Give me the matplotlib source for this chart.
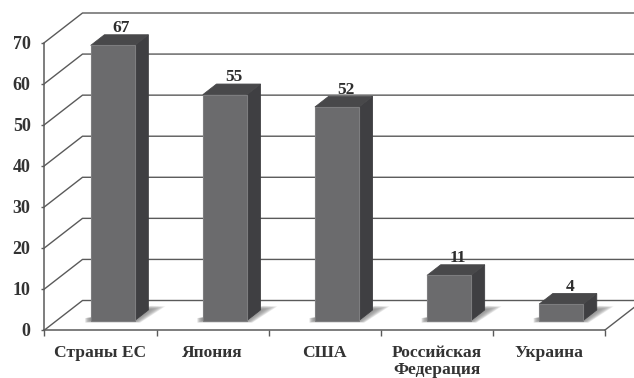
import numpy as np
import matplotlib
matplotlib.use("Agg")
import matplotlib.pyplot as plt
from matplotlib.patches import Polygon

categories = ["Страны ЕС", "Япония", "США", "Российская\nФедерация", "Украина"]
values = [67, 55, 52, 11, 4]
y_ticks = [0, 10, 20, 30, 40, 50, 60, 70]

W, H = 634, 378
# plot box in pixels, depth offset of the back wall
X0, X1, Y0, Y70 = 44.5, 605.0, 330.0, 42.5
DEPTH_X, DEPTH_Y = 38.0, 29.5

plt.rcParams["font.family"] = ["Liberation Serif", "DejaVu Serif"]
plt.rcParams["font.weight"] = "bold"

fig = plt.figure(figsize=(W / 100, H / 100), dpi=100)
ax = fig.add_axes([X0 / W, 1 - Y0 / H, (X1 - X0) / W, (Y0 - Y70) / H])
ax.set_xlim(0, 5)
ax.set_ylim(0, 70)

dx = DEPTH_X / ((X1 - X0) / 5)
dy = DEPTH_Y / ((Y0 - Y70) / 70)


def project(x, v, d):
    # oblique projection: d=0 is the front plane, d=1 the back wall
    return x + d * dx, v + d * dy


# walls and floor lines
for t in y_ticks:
    xa, ya = project(0, t, 0)
    xb, yb = project(0, t, 1)
    xc, yc = project(5, t, 1)
    ax.plot([xa, xb, xc], [ya, yb, yc], color="#5a5a5a", lw=1.0, clip_on=False, zorder=1)
xa, ya = project(5, 0, 0)
xb, yb = project(5, 0, 1)
ax.plot([xa, xb], [ya, yb], color="#5a5a5a", lw=1.0, clip_on=False, zorder=1)

# bars sit a little behind the front plane
bar_half = 0.196
d_front, d_back = 0.32, 0.68
for i, v in enumerate(values):
    xc = i + 0.5
    xl, xr = xc - bar_half, xc + bar_half

    # soft floor shadow, stacked translucent polygons
    for grow in np.linspace(1.0, 0.1, 10):
        pts = [project(xl - 0.05 * grow, -0.5 * grow, d_front),
               project(xr + 0.05 * grow, -0.5 * grow, d_front),
               project(xr + 0.11 * grow, 0, d_back + 0.12 * grow),
               project(xr - 0.02, 0, d_back + 0.14 * grow),
               project(xl - 0.05 * grow, 0.6, d_front)]
        ax.add_patch(Polygon(pts, fc="#808080", ec="none", alpha=0.15, zorder=2, clip_on=False))

    front = [project(xl, 0, d_front), project(xr, 0, d_front),
             project(xr, v, d_front), project(xl, v, d_front)]
    side = [project(xr, 0, d_front), project(xr, 0, d_back),
            project(xr, v, d_back), project(xr, v, d_front)]
    top = [project(xl, v, d_front), project(xr, v, d_front),
           project(xr, v, d_back), project(xl, v, d_back)]
    ax.add_patch(Polygon(side, fc="#3f3f42", ec="#3f3f42", lw=0.6, zorder=3, clip_on=False))
    ax.add_patch(Polygon(top, fc="#48484a", ec="#48484a", lw=0.6, zorder=3, clip_on=False))
    ax.add_patch(Polygon(front, fc="#6b6b6d", ec="#7d7d7f", lw=0.8, zorder=4, clip_on=False))

    lx, ly = project(xc, v, d_back)
    ax.annotate(str(v), (lx, ly), xytext=(-3.5, 2), textcoords="offset points",
                ha="center", va="baseline", fontsize=12.5, color="#2e2e2e", zorder=6,
                annotation_clip=False)

for side_name in ["top", "right"]:
    ax.spines[side_name].set_visible(False)
for side_name in ["left", "bottom"]:
    ax.spines[side_name].set_color("#5a5a5a")
    ax.spines[side_name].set_linewidth(1.1)

ax.set_yticks(y_ticks)
ax.set_xticks(range(6))
ax.set_xticklabels([])
ax.set_xticks(np.arange(5) + 0.5, minor=True)
ax.set_xticklabels(categories, minor=True, linespacing=1.15)
ax.tick_params(axis="x", which="major", direction="out", length=4, width=1, color="#5a5a5a")
ax.tick_params(axis="x", which="minor", length=0, pad=10.5, labelsize=12.6, labelcolor="#333333")
ax.tick_params(axis="y", direction="out", length=2, width=1, color="#5a5a5a",
               pad=8, labelsize=13, labelcolor="#333333")

fig.savefig("out.png", dpi=100)
